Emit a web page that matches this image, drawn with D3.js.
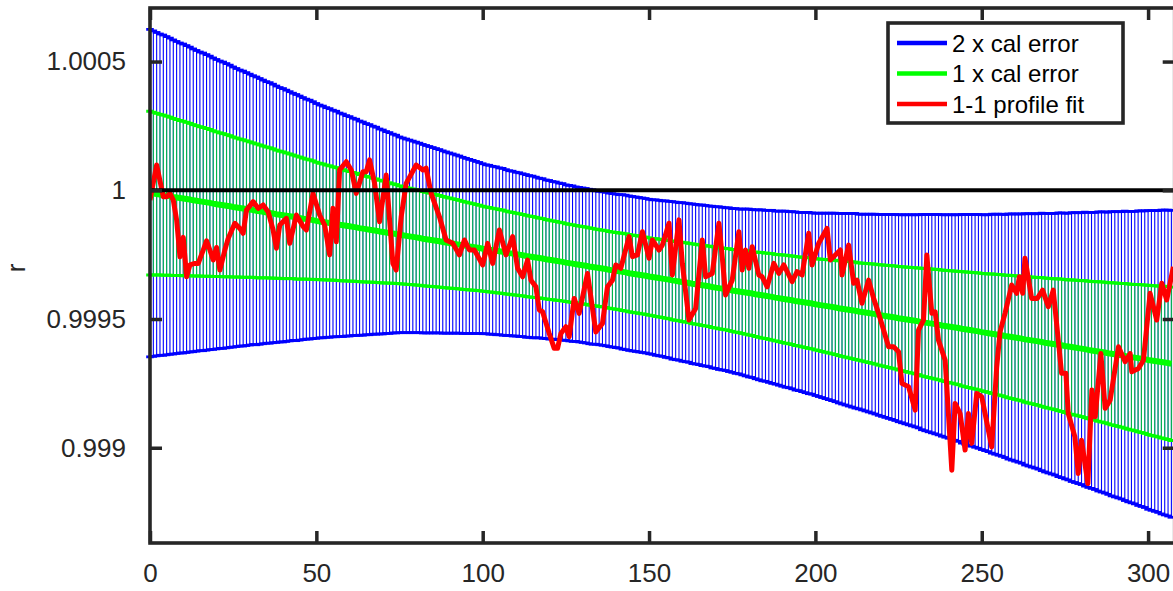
<!DOCTYPE html>
<html><head><meta charset="utf-8">
<script src="https://cdn.jsdelivr.net/npm/d3@7"></script>
<style>html,body{margin:0;padding:0;background:#fff;overflow:hidden}svg{display:block}</style>
</head><body><svg id="chart" width="1173" height="591"></svg>
<script>
// ---------- data ----------
const xTicks = [0, 50, 100, 150, 200, 250, 300];
const yTicks = [0.999, 0.9995, 1, 1.0005];
const yTickLabels = ["0.999", "0.9995", "1", "1.0005"];
const legendLabels = ["2 x cal error", "1 x cal error", "1-1 profile fit"];
const legendColors = ["#0000ff", "#00ff00", "#ff0000"];
const yLabel = "r";

// calibration centre (offset from 1, in ppm), one entry per profile index 0..307
const calCenterPpm = [
-11,-13,-15,-17,-19,-21,-23,-26,-28,-30,
-32,-34,-36,-39,-41,-43,-45,-47,-49,-52,
-54,-56,-58,-60,-62,-65,-67,-69,-71,-73,
-75,-77,-80,-82,-84,-86,-88,-90,-93,-95,
-97,-99,-101,-103,-106,-108,-110,-112,-114,-116,
-119,-121,-123,-125,-127,-129,-131,-134,-136,-138,
-140,-142,-144,-147,-149,-151,-153,-155,-157,-160,
-162,-164,-166,-168,-170,-173,-175,-177,-179,-181,
-183,-185,-188,-190,-192,-194,-196,-198,-201,-203,
-205,-207,-209,-211,-214,-216,-218,-220,-222,-224,
-227,-229,-231,-233,-235,-237,-239,-242,-244,-246,
-248,-250,-252,-255,-257,-259,-261,-263,-265,-268,
-270,-272,-274,-276,-278,-281,-283,-285,-287,-289,
-291,-293,-296,-298,-300,-302,-304,-306,-309,-311,
-313,-315,-317,-319,-322,-324,-326,-328,-330,-332,
-335,-337,-339,-341,-343,-345,-347,-350,-352,-354,
-356,-358,-360,-363,-365,-367,-369,-371,-373,-376,
-378,-380,-382,-384,-386,-389,-391,-393,-395,-397,
-399,-401,-404,-406,-408,-410,-412,-414,-417,-419,
-421,-423,-425,-427,-430,-432,-434,-436,-438,-440,
-443,-445,-447,-449,-451,-453,-455,-458,-460,-462,
-464,-466,-468,-471,-473,-475,-477,-479,-481,-484,
-486,-488,-490,-492,-494,-497,-499,-501,-503,-505,
-507,-509,-512,-514,-516,-518,-520,-522,-525,-527,
-529,-531,-533,-535,-538,-540,-542,-544,-546,-548,
-551,-553,-555,-557,-559,-561,-563,-566,-568,-570,
-572,-574,-576,-579,-581,-583,-585,-587,-589,-592,
-594,-596,-598,-600,-602,-605,-607,-609,-611,-613,
-615,-617,-620,-622,-624,-626,-628,-630,-633,-635,
-637,-639,-641,-643,-646,-648,-650,-652,-654,-656,
-659,-661,-663,-665,-667,-669,-671,-674
];
// 1-sigma calibration error (ppm), one entry per profile index 0..307
const calSigmaPpm = [
318,316,314,312,311,309,307,305,303,301,
300,298,296,294,292,290,289,287,285,283,
281,279,278,276,274,272,270,268,267,265,
263,261,260,258,256,254,253,251,249,247,
246,244,242,240,239,237,235,233,232,230,
228,226,225,223,222,220,219,217,216,214,
213,211,210,208,207,205,204,202,201,199,
198,196,195,193,192,190,189,188,187,186,
185,184,183,182,181,180,179,178,177,176,
175,174,173,172,171,170,169,168,167,166,
165,164,164,163,163,162,162,161,160,160,
159,159,158,158,157,157,156,155,155,154,
154,153,153,152,152,151,151,151,150,150,
150,150,150,150,149,149,149,149,149,149,
149,149,150,150,150,150,150,150,150,150,
150,150,151,151,151,152,152,153,153,153,
154,154,154,155,155,155,156,156,156,157,
157,158,158,158,159,159,160,160,161,162,
163,163,164,165,166,166,167,168,168,169,
170,171,171,172,173,173,174,175,176,176,
177,178,179,180,181,182,183,184,185,186,
187,188,189,189,190,191,192,193,194,195,
196,197,198,199,200,201,202,203,204,205,
206,207,209,210,211,212,213,214,215,216,
217,218,219,220,222,223,224,225,226,227,
228,229,230,232,233,234,235,236,238,239,
240,241,242,244,245,246,247,248,250,251,
252,253,254,256,257,258,259,261,262,263,
264,266,267,268,269,271,272,273,274,276,
277,278,279,281,282,283,284,286,287,288,
290,291,292,293,295,296,297,298
];
// 1-1 profile fit
const profileX = [
0,2,4,5,6,7,8,9,10,11,12,13.5,14.5,16,17,18,19,20,21,22.5,
23.5,25.5,27,28,29,31,32.5,34,35.5,37,38,39,41,42,44,46,47,49,51,52.5,
54,55,56,57,59,60.5,62,64,65,66,67.5,69,71,73,74,75.5,77,80,82,83,84.5,87,
89,91,93,94.5,96,97.5,100,101.5,103,105,107,109,110.5,112,113.5,114.5,116,117,118,120,
121.5,122.5,123.5,125,126,127.5,129,131.5,134,136,137.5,139,140,141.5,144,145,146.5,148,150,151,
153,154,156,157,159,160,162,164,166,167,169,171,172,173,175,177,178,179,180,181,
183,184,185.5,187.5,189,190.5,193,194.5,196,198,199,201,203.5,204.5,207.5,
208,210,211.5,212.5,214,216,217.5,219,220.5,222,223.5,225,226,228,230,231,232.5,233.5,235,236,
237,239,239.5,241,242,243.5,245,246,247,248.5,250,253,254.5,255.5,257,259,260.5,261.3,262.3,263,
265,266.7,268.3,270,271.5,273,274,275.3,276,278,279,280,281.9,283.1,284.1,285.8,287.1,288.6,291.1,293.1,
294.6,295.1,297.1,298.6,300.6,302.6,304.1,305.6,307.6
];
const profilePpm = [
-38,98,-25,-25,-12,-38,-115,-258,-183,-336,-290,-284,-284,-232,-196,-232,-271,-222,-310,-232,
-187,-128,-148,-167,-77,-44,-70,-57,-83,-154,-225,-135,-109,-206,-96,-141,-154,-12,-96,-135,
-251,-70,-200,79,111,79,-12,72,72,118,27,-122,59,-284,-310,-103,27,98,79,86,-12,-103,
-193,-206,-251,-193,-232,-232,-290,-206,-284,-154,-251,-180,-303,-336,-271,-349,-375,-465,-472,-556,
-614,-614,-556,-530,-569,-420,-478,-323,-550,-517,-375,-349,-290,-303,-180,-258,-251,-161,-264,-193,
-232,-213,-128,-329,-115,-284,-504,-459,-193,-336,-323,-128,-258,-407,-349,-161,-310,-232,-303,-219,
-329,-336,-375,-284,-323,-290,-355,-316,-329,-167,-290,-206,-148,-271,-232,
-329,-213,-361,-349,-439,-349,-420,-478,-543,-608,-608,-627,-750,-763,-854,-543,-504,-251,-478,-472,
-582,-660,-763,-1087,-828,-867,-1009,-867,-983,-789,-802,-997,-686,-550,-478,-368,-400,-336,-400,-264,
-420,-420,-388,-452,-388,-582,-711,-711,-867,-958,-1100,-971,-1139,-776,-880,-634,-847,-815,-608,-666,
-634,-705,-692,-660,-400,-504,-361,-426,-297
];

// ---------- chart ----------
const FONT = "'Liberation Sans', Arial, Helvetica, sans-serif";
const AX = "#262626";
const svg = d3.select("#chart");
const box = {left:150, top:8, right:1174.7, bottom:543};
const x = d3.scaleLinear().domain([0, 308]).range([box.left, box.right]);
const y = d3.scaleLinear().domain([0.99863, 1.000708]).range([box.bottom, box.top]);

const cal = calCenterPpm.map((c, i) => ({i, c: 1 + c * 1e-6, s: calSigmaPpm[i] * 1e-6}));
const prof = profileX.map((v, i) => ({x: v, r: 1 + profilePpm[i] * 1e-6}));

svg.append("rect").attr("width", 1173).attr("height", 591).attr("fill", "#fff");

const capHalf = 3.8;
function errorBars(k, color, barOpacity, capW, centerW) {
  const g = svg.append("g");
  g.selectAll("line.v").data(cal).join("line").attr("class", "v")
    .attr("x1", d => x(d.i)).attr("x2", d => x(d.i))
    .attr("y1", d => y(d.c + k * d.s)).attr("y2", d => y(d.c - k * d.s))
    .attr("stroke", color).attr("stroke-width", 1.1).attr("stroke-opacity", barOpacity);
  g.selectAll("line.t").data(cal).join("line").attr("class", "t")
    .attr("x1", d => x(d.i) - capHalf).attr("x2", d => x(d.i) + capHalf)
    .attr("y1", d => y(d.c + k * d.s)).attr("y2", d => y(d.c + k * d.s))
    .attr("stroke", color).attr("stroke-width", capW);
  g.selectAll("line.b").data(cal).join("line").attr("class", "b")
    .attr("x1", d => x(d.i) - capHalf).attr("x2", d => x(d.i) + capHalf)
    .attr("y1", d => y(d.c - k * d.s)).attr("y2", d => y(d.c - k * d.s))
    .attr("stroke", color).attr("stroke-width", capW);
  g.append("path").datum(cal)
    .attr("d", d3.line().x(d => x(d.i)).y(d => y(d.c)))
    .attr("fill", "none").attr("stroke", color).attr("stroke-width", centerW);
}
errorBars(2, "#0000ff", 1, 2.8, 4);
errorBars(1, "#00ff00", 0.72, 3, 6);

// clip for the profile line
svg.append("clipPath").attr("id", "clip").append("rect")
  .attr("x", box.left).attr("y", box.top)
  .attr("width", box.right - box.left).attr("height", box.bottom - box.top);

svg.append("path").datum(prof)
  .attr("clip-path", "url(#clip)")
  .attr("d", d3.line().x(d => x(d.x)).y(d => y(d.r)))
  .attr("fill", "none").attr("stroke", "#ff0000").attr("stroke-width", 5)
  .attr("stroke-linejoin", "round");

// reference line r = 1
svg.append("line")
  .attr("x1", x(0)).attr("x2", box.right)
  .attr("y1", y(1)).attr("y2", y(1))
  .attr("stroke", "#000").attr("stroke-width", 4);

// axes
const tickLen = 12;
const gx = svg.append("g").attr("transform", `translate(0,${box.bottom})`)
  .call(d3.axisBottom(x).tickValues(xTicks).tickFormat(d3.format("d"))
    .tickSizeInner(-tickLen).tickSizeOuter(0).tickPadding(21));
const gxt = svg.append("g").attr("transform", `translate(0,${box.top})`)
  .call(d3.axisTop(x).tickValues(xTicks).tickFormat("").tickSizeInner(-tickLen).tickSizeOuter(0));
const gy = svg.append("g").attr("transform", `translate(${box.left},0)`)
  .call(d3.axisLeft(y).tickValues(yTicks).tickFormat((d, i) => yTickLabels[i])
    .tickSizeInner(-tickLen).tickSizeOuter(0).tickPadding(24));
const gyr = svg.append("g").attr("transform", `translate(${box.right},0)`)
  .call(d3.axisRight(y).tickValues(yTicks).tickFormat("").tickSizeInner(-tickLen).tickSizeOuter(0));
[gx, gxt, gy, gyr].forEach(g => {
  g.select(".domain").remove();
  g.selectAll(".tick line").attr("stroke", AX).attr("stroke-width", 3.5);
  g.selectAll("text").attr("fill", AX).style("font-family", FONT).style("font-size", "26px");
});
svg.append("rect")
  .attr("x", box.left).attr("y", box.top)
  .attr("width", box.right - box.left).attr("height", box.bottom - box.top)
  .attr("fill", "none").attr("stroke", AX).attr("stroke-width", 3.6);

// y label
svg.append("text").attr("transform", "translate(25,268) rotate(-90)")
  .attr("text-anchor", "middle").attr("fill", AX)
  .style("font-family", FONT).style("font-size", "26px").text(yLabel);

// legend
const lg = svg.append("g");
lg.append("rect").attr("x", 888).attr("y", 23).attr("width", 235).attr("height", 100)
  .attr("fill", "#fff").attr("stroke", AX).attr("stroke-width", 3.6);
legendLabels.forEach((t, i) => {
  const yy = 43 + i * 30.5;
  lg.append("line").attr("x1", 897).attr("x2", 947).attr("y1", yy).attr("y2", yy)
    .attr("stroke", legendColors[i]).attr("stroke-width", 4.5);
  lg.append("text").attr("x", 952).attr("y", yy + 8.7).attr("fill", "#000")
    .style("font-family", FONT).style("font-size", "24px").text(t);
});
</script>
</body></html>
